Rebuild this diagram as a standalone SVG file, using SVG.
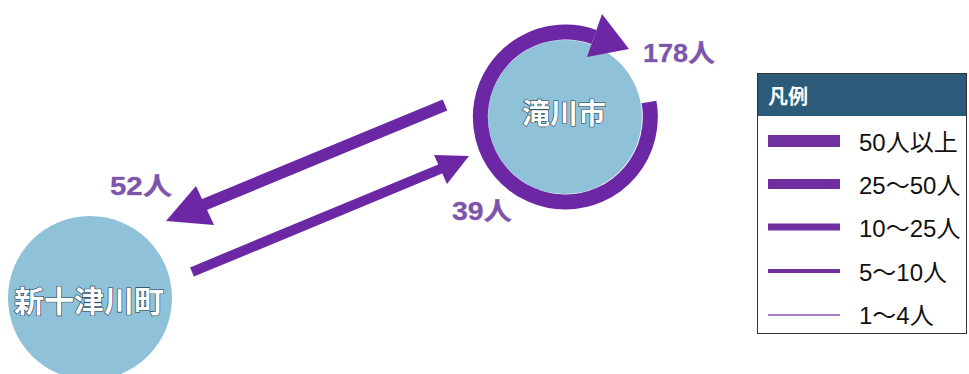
<svg xmlns="http://www.w3.org/2000/svg" width="969" height="374" viewBox="0 0 969 374">
<style>
.city{fill:#8fc1d9}
.cname{font-family:"Noto Sans CJK JP","Noto Sans CJK SC",sans-serif;font-weight:bold;fill:#ffffff;stroke:#1f3d52;stroke-width:1.2;paint-order:stroke;text-anchor:middle}
.flow{fill:none;stroke:#6c28a4;stroke-linecap:butt}
.head{fill:#6c28a4}
.num{font-family:"Liberation Sans Narrow","Liberation Sans","Noto Sans CJK JP",sans-serif;font-weight:bold;font-size:25px;fill:#7c55a8;stroke:#d9c8ec;stroke-width:0.8;paint-order:stroke}
.lg{font-family:"Liberation Sans Narrow","Liberation Sans","Noto Sans CJK JP",sans-serif;font-size:24px;fill:#111}
.lgline{stroke:#7030a0}
</style>
<rect width="969" height="374" fill="#ffffff"/>
<g id="shintotsukawa">
<circle class="city" cx="90" cy="298" r="82"/>
<text class="cname" x="89" y="312" font-size="30">新十津川町</text>
</g>
<g id="takikawa">
<circle class="city" cx="565" cy="117" r="77"/>
<text class="cname" x="564" y="124" font-size="28">滝川市</text>
</g>
<g id="connectors">
<path class="flow" stroke-width="15" d="M649,102 A85,85 0 1 1 594,37"/>
<polygon class="head" points="602,14 629,49 587,57"/>
<line class="flow" stroke-width="12" x1="445" y1="105" x2="196" y2="208"/>
<polygon class="head" points="166,221 196,186 214,225"/>
<line class="flow" stroke-width="10" x1="192" y1="272" x2="445" y2="167"/>
<polygon class="head" points="469,156 434,155 447,184"/>
<text class="num" x="643" y="62" textLength="72" lengthAdjust="spacingAndGlyphs">178人</text>
<text class="num" x="110" y="195" textLength="62" lengthAdjust="spacingAndGlyphs">52人</text>
<text class="num" x="452" y="220" textLength="60" lengthAdjust="spacingAndGlyphs">39人</text>
</g>
<g id="legend">
<rect x="757.5" y="73.5" width="209" height="260" fill="#ffffff" stroke="#333" stroke-width="1"/>
<rect x="758" y="74" width="208" height="42" fill="#2b5b78"/>
<text x="768" y="104" font-family="Noto Sans CJK JP,sans-serif" font-weight="bold" font-size="20" fill="#ffffff">凡例</text>
<line class="lgline" x1="768" y1="141" x2="840" y2="141" stroke-width="12"/>
<line class="lgline" x1="768" y1="184" x2="840" y2="184" stroke-width="10"/>
<line class="lgline" x1="768" y1="227" x2="840" y2="227" stroke-width="7"/>
<line class="lgline" x1="768" y1="271" x2="840" y2="271" stroke-width="4"/>
<line x1="768" y1="315" x2="840" y2="315" stroke="#a67fcc" stroke-width="2"/>
<text class="lg" x="859" y="151">50人以上</text>
<text class="lg" x="859" y="194">25～50人</text>
<text class="lg" x="859" y="237">10～25人</text>
<text class="lg" x="859" y="281">5～10人</text>
<text class="lg" x="859" y="324">1～4人</text>
</g>
</svg>
